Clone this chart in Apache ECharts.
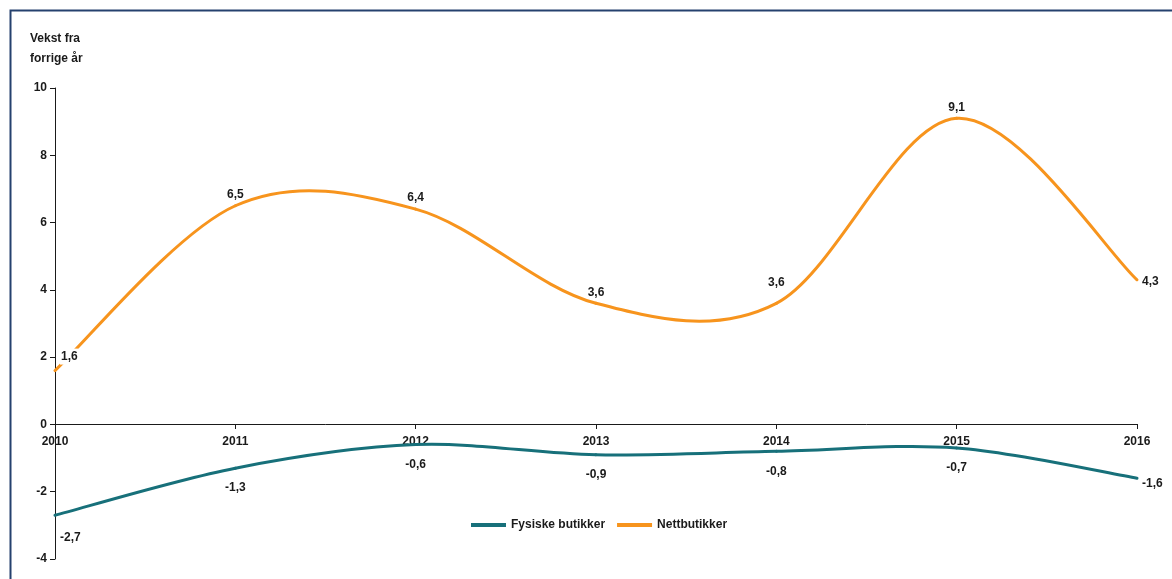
<!DOCTYPE html>
<html>
<head>
<meta charset="utf-8">
<script src="https://cdn.jsdelivr.net/npm/echarts@6/dist/echarts.min.js"></script>
<style>
  html, body { margin: 0; padding: 0; background: #ffffff; }
  #chart { width: 1172px; height: 579px; }
</style>
</head>
<body>
<div id="chart"></div>
<script>
// Årstall langs x-aksen
const years = ['2010', '2011', '2012', '2013', '2014', '2015', '2016'];
// Vekst fra forrige år, prosent
const fysiske = [-2.7, -1.3, -0.6, -0.9, -0.8, -0.7, -1.6];
const nett = [1.6, 6.5, 6.4, 3.6, 3.6, 9.1, 4.3];
const seriesNames = ['Fysiske butikker', 'Nettbutikker'];
const axisTitle = 'Vekst fra\nforrige år';

const FONT = 'Liberation Sans';
const TEAL = '#17707a';
const ORANGE = '#f7941d';
const INK = '#1a1a1a';

const fmt = v => String(v).replace('.', ',');

// Per-point label placement: default above/below the line, some points shifted aside.
function labelled(arr, base, overrides) {
  return arr.map((v, i) => {
    const o = overrides[i] || base;
    return { value: v, label: Object.assign({}, o) };
  });
}

// Catmull-Rom style smoothed curve through the pixel positions of the values.
function smoothCurve(values, color) {
  return function (params, api) {
    if (params.dataIndex !== 0) return null;
    const pts = values.map((v, i) => api.coord([i, v]));
    const n = pts.length;
    const children = [];
    for (let i = 0; i < n - 1; i++) {
      const p0 = pts[Math.max(i - 1, 0)];
      const p1 = pts[i];
      const p2 = pts[i + 1];
      const p3 = pts[Math.min(i + 2, n - 1)];
      children.push({
        type: 'bezierCurve',
        shape: {
          x1: p1[0], y1: p1[1],
          cpx1: p1[0] + (p2[0] - p0[0]) / 6, cpy1: p1[1] + (p2[1] - p0[1]) / 6,
          cpx2: p2[0] - (p3[0] - p1[0]) / 6, cpy2: p2[1] - (p3[1] - p1[1]) / 6,
          x2: p2[0], y2: p2[1]
        },
        style: { fill: null, stroke: color, lineWidth: 3, lineCap: 'round' }
      });
    }
    return { type: 'group', children: children };
  };
}

const valueLabel = {
  show: true,
  formatter: p => fmt(p.value),
  fontFamily: FONT, fontWeight: 'bold', fontSize: 12, color: INK
};

const chart = echarts.init(document.getElementById('chart'), null, { renderer: 'canvas' });

chart.setOption({
  animation: false,
  backgroundColor: '#ffffff',
  textStyle: { fontFamily: FONT },
  grid: { left: 55, right: 35, top: 88, bottom: 20, containLabel: false },
  graphic: [
    {
      type: 'rect',
      shape: { x: 10.5, y: 10.5, width: 1200, height: 600 },
      style: { fill: 'none', stroke: '#25416e', lineWidth: 2 },
      silent: true
    },
    {
      type: 'text',
      left: 30, top: 29,
      style: {
        text: axisTitle,
        font: 'bold 12px "' + FONT + '"',
        fill: INK,
        lineHeight: 20
      }
    }
  ],
  legend: {
    bottom: 43,
    left: 466,
    itemWidth: 35,
    itemHeight: 4,
    itemGap: 12,
    icon: 'rect',
    textStyle: { fontFamily: FONT, fontWeight: 'bold', fontSize: 12, color: INK },
    data: [
      { name: seriesNames[0], itemStyle: { color: TEAL, opacity: 1 } },
      { name: seriesNames[1], itemStyle: { color: ORANGE, opacity: 1 } }
    ]
  },
  xAxis: {
    type: 'category',
    data: years,
    boundaryGap: false,
    offset: -135,
    axisLine: { onZero: false, lineStyle: { color: INK, width: 1 } },
    axisTick: { show: true, length: 5, alignWithLabel: true, lineStyle: { color: INK } },
    axisLabel: { color: INK, fontWeight: 'bold', fontSize: 12, margin: 12, fontFamily: FONT },
    splitLine: { show: false }
  },
  yAxis: {
    type: 'value',
    min: -4, max: 10, interval: 2,
    axisLine: { show: true, lineStyle: { color: INK, width: 1 } },
    axisTick: { show: true, length: 5, lineStyle: { color: INK } },
    axisLabel: { color: INK, fontWeight: 'bold', fontSize: 12, margin: 8, fontFamily: FONT },
    splitLine: { show: false }
  },
  series: [
    {
      name: seriesNames[0],
      type: 'line',
      data: labelled(fysiske, { position: 'bottom', offset: [0, 9] }, {
        0: { position: 'right', offset: [0, 22] },
        6: { position: 'right', offset: [0, 5] }
      }),
      symbol: 'circle',
      symbolSize: 0.01,
      showSymbol: true,
      lineStyle: { opacity: 0 },
      itemStyle: { color: TEAL },
      label: valueLabel,
      z: 4
    },
    {
      name: seriesNames[1],
      type: 'line',
      data: labelled(nett, { position: 'top', offset: [0, 0] }, {
        0: { position: 'right', offset: [0, -14], backgroundColor: '#ffffff', padding: [2, 1] },
        4: { position: 'top', offset: [0, -10] },
        6: { position: 'right', offset: [0, 2] }
      }),
      symbol: 'circle',
      symbolSize: 0.01,
      showSymbol: true,
      lineStyle: { opacity: 0 },
      itemStyle: { color: ORANGE },
      label: valueLabel,
      z: 4
    },
    {
      type: 'custom',
      data: fysiske.map((v, i) => [i, v]),
      renderItem: smoothCurve(fysiske, TEAL),
      silent: true,
      z: 2
    },
    {
      type: 'custom',
      data: nett.map((v, i) => [i, v]),
      renderItem: smoothCurve(nett, ORANGE),
      silent: true,
      z: 2
    }
  ]
});
</script>
</body>
</html>
